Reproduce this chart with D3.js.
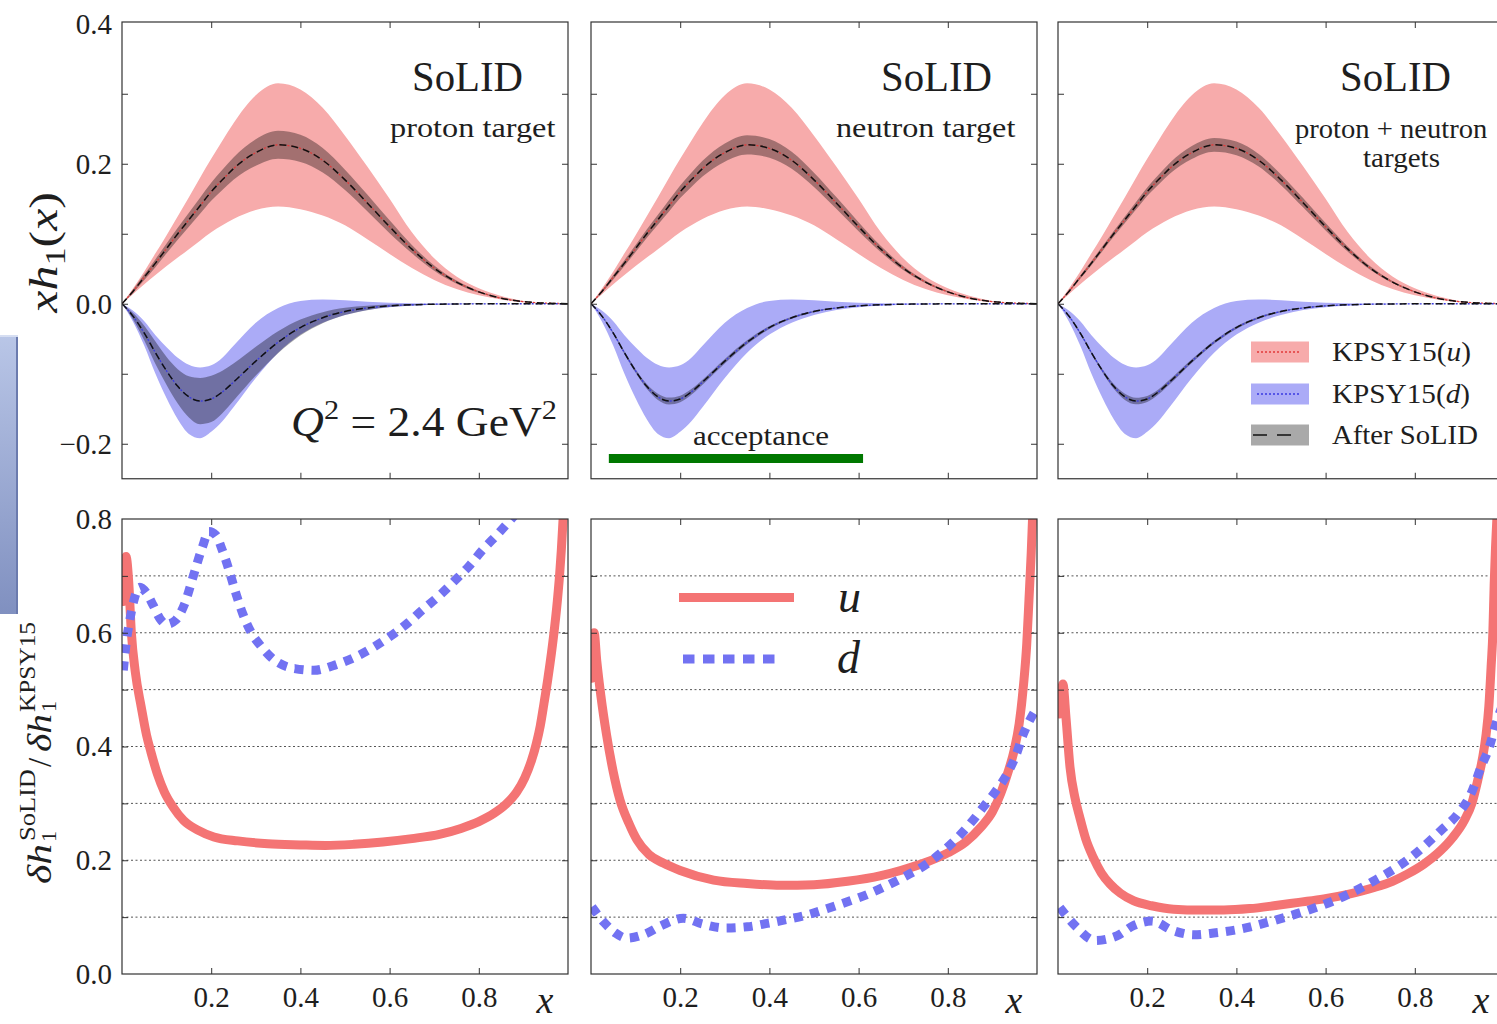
<!DOCTYPE html>
<html><head><meta charset="utf-8">
<script src="https://cdn.jsdelivr.net/npm/d3@7"></script>
<style>html,body{margin:0;padding:0;background:#fff;overflow:hidden}svg{display:block}</style>
</head><body>
<svg id="chart" width="1497" height="1024"></svg>
<script>
// ---------------- DATA ----------------
const xGrid = [0, 0.025, 0.05, 0.075, 0.1, 0.125, 0.15, 0.175, 0.2, 0.225, 0.25, 0.3, 0.35, 0.4, 0.45, 0.5, 0.55, 0.6, 0.65, 0.7, 0.75, 0.8, 0.85, 0.9, 0.95, 1.0];
// KPSY15 u band (x h1)
const uUpper   = [0, 0.022, 0.046, 0.072, 0.098, 0.125, 0.152, 0.180, 0.207, 0.233, 0.258, 0.298, 0.315, 0.306, 0.280, 0.240, 0.196, 0.150, 0.102, 0.065, 0.039, 0.022, 0.011, 0.004, 0.001, 0];
const uCentral = [0, 0.018, 0.038, 0.058, 0.079, 0.100, 0.120, 0.140, 0.160, 0.177, 0.193, 0.216, 0.227, 0.222, 0.205, 0.177, 0.144, 0.110, 0.078, 0.051, 0.031, 0.017, 0.008, 0.003, 0.001, 0];
const uLower   = [0, 0.014, 0.028, 0.041, 0.054, 0.066, 0.078, 0.090, 0.102, 0.112, 0.121, 0.134, 0.139, 0.135, 0.126, 0.112, 0.092, 0.071, 0.051, 0.034, 0.021, 0.012, 0.006, 0.002, 0.0005, 0];
// KPSY15 d band
const dUpper   = [0, -0.010, -0.025, -0.045, -0.062, -0.077, -0.087, -0.091, -0.088, -0.077, -0.060, -0.027, -0.006, 0.004, 0.006, 0.005, 0.003, 0.0015, 0.0007, 0.0003, 0.0001, 0, 0, 0, 0, 0];
const dCentral = [0, -0.018, -0.042, -0.070, -0.096, -0.118, -0.133, -0.139, -0.136, -0.126, -0.112, -0.082, -0.055, -0.034, -0.020, -0.011, -0.006, -0.003, -0.0015, -0.0007, -0.0003, -0.0001, 0, 0, 0, 0];
const dLower   = [0, -0.026, -0.060, -0.100, -0.135, -0.165, -0.186, -0.192, -0.183, -0.168, -0.148, -0.106, -0.070, -0.044, -0.027, -0.016, -0.009, -0.005, -0.003, -0.0015, -0.0007, -0.0003, -0.0001, 0, 0, 0];
// "After SoLID" half-widths of the reduced bands
const afterHalfUProton   = [0, 0.0025, 0.004, 0.0057, 0.007, 0.0086, 0.010, 0.0115, 0.0129, 0.0145, 0.016, 0.019, 0.020, 0.0194, 0.0175, 0.0146, 0.012, 0.0092, 0.006, 0.0038, 0.0023, 0.0013, 0.0007, 0.0003, 0.0001, 0];
const afterHalfDProton   = [0, 0.0048, 0.0106, 0.016, 0.020, 0.0246, 0.0294, 0.033, 0.033, 0.0303, 0.0265, 0.0206, 0.0157, 0.0115, 0.008, 0.0052, 0.0032, 0.0018, 0.0011, 0.0005, 0.0003, 0.0001, 0, 0, 0, 0];
const afterHalfUNeutron  = [0, 0.0018, 0.0032, 0.0042, 0.0051, 0.006, 0.007, 0.0081, 0.009, 0.0101, 0.0112, 0.013, 0.0138, 0.0133, 0.0121, 0.0102, 0.0084, 0.0066, 0.0045, 0.0029, 0.0018, 0.0011, 0.0006, 0.0003, 0.0001, 0];
const afterHalfDNeutron  = [0, 0.0009, 0.0015, 0.002, 0.0026, 0.0034, 0.0045, 0.0049, 0.0047, 0.0041, 0.0036, 0.0032, 0.0027, 0.0021, 0.0016, 0.0011, 0.0007, 0.0004, 0.0003, 0.0001, 0.0001, 0, 0, 0, 0, 0];
const afterHalfUCombined = [0, 0.0014, 0.0024, 0.0031, 0.0035, 0.0041, 0.0048, 0.0055, 0.0061, 0.007, 0.0078, 0.0093, 0.0099, 0.0097, 0.009, 0.0077, 0.0066, 0.0052, 0.0036, 0.0024, 0.0015, 0.0009, 0.0005, 0.0003, 0.0001, 0];
const afterHalfDCombined = [0, 0.0008, 0.0014, 0.0019, 0.0024, 0.0034, 0.0044, 0.0047, 0.0043, 0.0036, 0.0033, 0.0027, 0.0023, 0.0019, 0.0014, 0.001, 0.0006, 0.0004, 0.0003, 0.0001, 0.0001, 0, 0, 0, 0, 0];
// Error-reduction ratios (bottom row)
const ratioProtonUX = [0.003, 0.009, 0.015, 0.021, 0.03, 0.043, 0.055, 0.065, 0.08, 0.095, 0.115, 0.138, 0.17, 0.206, 0.26, 0.327, 0.4, 0.456, 0.52, 0.585, 0.65, 0.714, 0.76, 0.8, 0.835, 0.86, 0.885, 0.903, 0.918, 0.929, 0.938, 0.946, 0.955, 0.963, 0.97, 0.976, 0.981, 0.985, 0.989, 0.993];
const ratioProtonU  = [0.655, 0.734, 0.69, 0.6, 0.53, 0.47, 0.42, 0.39, 0.35, 0.32, 0.293, 0.27, 0.253, 0.241, 0.234, 0.229, 0.227, 0.226, 0.228, 0.232, 0.238, 0.246, 0.256, 0.268, 0.283, 0.298, 0.32, 0.345, 0.375, 0.405, 0.437, 0.475, 0.52, 0.565, 0.61, 0.655, 0.7, 0.745, 0.8, 0.86];
const ratioProtonDX = [0.003, 0.009, 0.017, 0.026, 0.04, 0.055, 0.07, 0.085, 0.1, 0.12, 0.14, 0.16, 0.18, 0.195, 0.21, 0.225, 0.24, 0.255, 0.27, 0.29, 0.31, 0.34, 0.387, 0.43, 0.473, 0.525, 0.567, 0.602, 0.636, 0.675, 0.714, 0.744, 0.778, 0.808, 0.843, 0.873, 0.9];
const ratioProtonD  = [0.534, 0.58, 0.62, 0.655, 0.68, 0.67, 0.648, 0.625, 0.615, 0.622, 0.65, 0.7, 0.75, 0.778, 0.772, 0.745, 0.71, 0.67, 0.635, 0.6, 0.578, 0.553, 0.537, 0.534, 0.542, 0.558, 0.576, 0.594, 0.614, 0.641, 0.667, 0.69, 0.717, 0.745, 0.774, 0.8, 0.824];
const ratioNeutronUX = [0.002, 0.007, 0.013, 0.022, 0.035, 0.05, 0.065, 0.085, 0.103, 0.13, 0.162, 0.2, 0.275, 0.35, 0.425, 0.5, 0.575, 0.65, 0.694, 0.75, 0.8, 0.84, 0.874, 0.9, 0.919, 0.935, 0.949, 0.96, 0.97, 0.977, 0.982, 0.987, 0.99, 0.994];
const ratioNeutronU  = [0.52, 0.6, 0.55, 0.49, 0.42, 0.355, 0.306, 0.265, 0.236, 0.21, 0.195, 0.182, 0.165, 0.159, 0.156, 0.157, 0.163, 0.173, 0.182, 0.196, 0.213, 0.232, 0.258, 0.285, 0.318, 0.355, 0.394, 0.44, 0.51, 0.58, 0.658, 0.74, 0.8, 0.88];
const ratioNeutronDX = [0.002, 0.03, 0.055, 0.08, 0.12, 0.16, 0.207, 0.25, 0.3, 0.35, 0.395, 0.44, 0.485, 0.53, 0.575, 0.62, 0.665, 0.705, 0.746, 0.785, 0.822, 0.852, 0.88, 0.908, 0.934, 0.953, 0.97, 0.985, 1.0];
const ratioNeutronD  = [0.118, 0.09, 0.072, 0.063, 0.07, 0.086, 0.098, 0.088, 0.081, 0.083, 0.089, 0.096, 0.104, 0.115, 0.127, 0.14, 0.156, 0.172, 0.19, 0.213, 0.24, 0.266, 0.294, 0.322, 0.353, 0.385, 0.423, 0.448, 0.468];
const ratioCombinedUX = [0.004, 0.011, 0.018, 0.027, 0.038, 0.049, 0.062, 0.079, 0.097, 0.117, 0.14, 0.169, 0.21, 0.259, 0.32, 0.372, 0.43, 0.484, 0.54, 0.596, 0.65, 0.709, 0.75, 0.784, 0.82, 0.858, 0.885, 0.911, 0.928, 0.941, 0.952, 0.96, 0.966, 0.971, 0.975, 0.978, 0.981, 0.984, 0.987];
const ratioCombinedU  = [0.457, 0.51, 0.45, 0.363, 0.31, 0.275, 0.238, 0.205, 0.178, 0.158, 0.142, 0.129, 0.12, 0.114, 0.1125, 0.1125, 0.115, 0.12, 0.126, 0.132, 0.14, 0.152, 0.163, 0.176, 0.193, 0.217, 0.24, 0.27, 0.3, 0.34, 0.38, 0.422, 0.47, 0.539, 0.6, 0.686, 0.75, 0.8, 0.86];
const ratioCombinedDX = [0.004, 0.042, 0.083, 0.132, 0.169, 0.21, 0.259, 0.304, 0.349, 0.409, 0.484, 0.544, 0.619, 0.709, 0.791, 0.858, 0.896, 0.926, 0.948, 0.967, 0.982, 1.0];
const ratioCombinedD  = [0.117, 0.082, 0.059, 0.067, 0.085, 0.093, 0.076, 0.069, 0.072, 0.079, 0.094, 0.108, 0.129, 0.164, 0.205, 0.252, 0.281, 0.317, 0.363, 0.399, 0.44, 0.48];
// ticks, labels, annotations
const xTicks = [0.2, 0.4, 0.6, 0.8];
const topYLabelTicks = [-0.2, 0.0, 0.2, 0.4];
const topYMinorTicks = [-0.2, -0.1, 0, 0.1, 0.2, 0.3];
const botYLabelTicks = [0.0, 0.2, 0.4, 0.6, 0.8];
const botYMinorTicks = [0.1, 0.2, 0.3, 0.4, 0.5, 0.6, 0.7];
const gridLevels = [0.1, 0.2, 0.3, 0.4, 0.5, 0.6, 0.7];
const acceptanceRange = [0.04, 0.61];
const acceptanceLevel = -0.221;
const panelSubtitles = [["proton target"], ["neutron target"], ["proton + neutron", "targets"]];
const legendLabels = ["KPSY15(u)", "KPSY15(d)", "After SoLID"];

// ---------------- LAYOUT ----------------
const svg = d3.select("#chart");
const SERIF = "'Liberation Serif','Times New Roman',serif";
const ink = "#1e1e1e";
const colBandU = "#f7abab", colBandD = "#ababf7", colAfter = "rgba(0,0,0,0.34)";
const colLineU = "#f47474", colLineD = "#7272f2";
const panelLeft = [122, 591, 1058];
const panelW = 446;
const yTop = d3.scaleLinear().domain([-0.25, 0.4025]).range([478.75, 22]);
const yBot = d3.scaleLinear().domain([0, 0.8]).range([974, 519]);
const fmt = d3.format(".1f");

function rich(parent, pieces, x, y, size, anchor) {
  const t = parent.append("text").attr("x", x).attr("y", y)
    .attr("font-family", SERIF).attr("font-size", size).attr("fill", ink)
    .attr("text-anchor", anchor || "start");
  let shift = 0;
  pieces.forEach(p => {
    const s = t.append("tspan").text(p.t);
    if (p.i) s.attr("font-style", "italic");
    const target = p.sup ? -p.sup : (p.sub ? p.sub : 0);
    if (target !== shift) { s.attr("dy", target - shift); shift = target; }
    if (p.fs) s.attr("font-size", p.fs);
    if (p.dx) s.attr("dx", p.dx);
  });
  return t;
}
function fit(t, x0, width) {
  const b = t.node().getBBox();
  const k = width / b.width;
  t.attr("transform", `translate(${x0},0) scale(${k},1) translate(${-b.x},0)`);
  return t;
}

// decoration at the left edge (slide element)
const defs = svg.append("defs");
const g1 = defs.append("linearGradient").attr("id", "deco").attr("x1", 0).attr("y1", 0).attr("x2", 0).attr("y2", 1);
g1.append("stop").attr("offset", "0%").attr("stop-color", "#b9c6e7");
g1.append("stop").attr("offset", "100%").attr("stop-color", "#8090c0");
svg.append("rect").attr("x", -4).attr("y", 335).attr("width", 22).attr("height", 279).attr("fill", "url(#deco)");
svg.append("rect").attr("x", 16).attr("y", 337).attr("width", 2).attr("height", 277).attr("fill", "#6b7bae");
svg.append("rect").attr("x", -4).attr("y", 335).attr("width", 22).attr("height", 2).attr("fill", "#d6def2");

const panels = [
  {halfU: afterHalfUProton, halfD: afterHalfDProton, rU: [ratioProtonUX, ratioProtonU], rD: [ratioProtonDX, ratioProtonD]},
  {halfU: afterHalfUNeutron, halfD: afterHalfDNeutron, rU: [ratioNeutronUX, ratioNeutronU], rD: [ratioNeutronDX, ratioNeutronD]},
  {halfU: afterHalfUCombined, halfD: afterHalfDCombined, rU: [ratioCombinedUX, ratioCombinedU], rD: [ratioCombinedDX, ratioCombinedD]}
];

panels.forEach((p, i) => {
  const L = panelLeft[i];
  const x = d3.scaleLinear().domain([0, 1]).range([L, L + panelW]);

  // ---------- TOP PANEL ----------
  const clipT = "clipT" + i;
  defs.append("clipPath").attr("id", clipT).append("rect")
    .attr("x", x(0)).attr("y", yTop(0.4025)).attr("width", x(1) - x(0)).attr("height", yTop(-0.25) - yTop(0.4025));
  const gT = svg.append("g").attr("clip-path", `url(#${clipT})`);
  const area = (lo, hi) => d3.area().curve(d3.curveMonotoneX)
    .x((d, k) => x(xGrid[k])).y0((d, k) => yTop(lo(k))).y1((d, k) => yTop(hi(k)))(xGrid);
  const line = (f) => d3.line().curve(d3.curveMonotoneX).x((d, k) => x(xGrid[k])).y((d, k) => yTop(f(k)))(xGrid);

  gT.append("path").attr("d", area(k => uLower[k], k => uUpper[k])).attr("fill", colBandU);
  gT.append("path").attr("d", area(k => dLower[k], k => dUpper[k])).attr("fill", colBandD);
  gT.append("path").attr("d", area(k => uCentral[k] - p.halfU[k], k => uCentral[k] + p.halfU[k])).attr("fill", colAfter);
  gT.append("path").attr("d", area(k => dCentral[k] - p.halfD[k], k => dCentral[k] + p.halfD[k])).attr("fill", colAfter);
  gT.append("path").attr("d", line(k => uCentral[k])).attr("fill", "none").attr("stroke", "#e23a3a").attr("stroke-width", 1.3).attr("stroke-dasharray", "2,2");
  gT.append("path").attr("d", line(k => dCentral[k])).attr("fill", "none").attr("stroke", "#3a3ae2").attr("stroke-width", 1.3).attr("stroke-dasharray", "2,2");
  gT.append("path").attr("d", line(k => uCentral[k])).attr("fill", "none").attr("stroke", "#111").attr("stroke-width", 1.5).attr("stroke-dasharray", "7,5");
  gT.append("path").attr("d", line(k => dCentral[k])).attr("fill", "none").attr("stroke", "#111").attr("stroke-width", 1.5).attr("stroke-dasharray", "7,5");

  // frame + ticks (top)
  const axT = svg.append("g").attr("font-family", SERIF);
  const addAxis = (g, ax, tx, ty) => {
    const s = g.append("g").attr("transform", `translate(${tx},${ty})`).call(ax);
    s.attr("font-family", SERIF).attr("font-size", 29);
    s.select(".domain").remove();
    s.selectAll(".tick line").attr("stroke", "#333").attr("stroke-width", 1);
    s.selectAll(".tick text").attr("fill", ink).attr("font-size", 29).attr("font-family", SERIF);
    return s;
  };
  addAxis(axT, d3.axisLeft(yTop).tickValues(topYMinorTicks).tickSize(-6).tickFormat(""), x(0), 0);
  addAxis(axT, d3.axisRight(yTop).tickValues(topYMinorTicks).tickSize(-6).tickFormat(""), x(1), 0);
  addAxis(axT, d3.axisTop(x).tickValues(xTicks).tickSize(-6).tickFormat(""), 0, yTop(0.4025));
  addAxis(axT, d3.axisBottom(x).tickValues(xTicks).tickSize(-6).tickFormat(""), 0, yTop(-0.25));
  axT.append("rect").attr("x", x(0)).attr("y", yTop(0.4025)).attr("width", x(1) - x(0)).attr("height", yTop(-0.25) - yTop(0.4025))
    .attr("fill", "none").attr("stroke", "#333").attr("stroke-width", 1.2);
  if (i === 0) addAxis(axT, d3.axisLeft(yTop).tickValues(topYLabelTicks).tickSize(0).tickPadding(10).tickFormat(fmt), x(0), 0);

  // ---------- BOTTOM PANEL ----------
  const clipB = "clipB" + i;
  defs.append("clipPath").attr("id", clipB).append("rect")
    .attr("x", x(0)).attr("y", yBot(0.8)).attr("width", x(1) - x(0)).attr("height", yBot(0) - yBot(0.8));
  const gB = svg.append("g").attr("clip-path", `url(#${clipB})`);
  gB.selectAll("line.grid").data(gridLevels).enter().append("line")
    .attr("x1", x(0)).attr("x2", x(1)).attr("y1", d => yBot(d)).attr("y2", d => yBot(d))
    .attr("stroke", "#555").attr("stroke-width", 1).attr("stroke-dasharray", "2,2.5");
  const rline = (xs, ys) => d3.line().curve(d3.curveMonotoneX).x((d, k) => x(xs[k])).y((d, k) => yBot(ys[k]))(xs);
  gB.append("path").attr("d", rline(p.rU[0], p.rU[1])).attr("fill", "none").attr("stroke", colLineU)
    .attr("stroke-width", 9).attr("stroke-linejoin", "round").attr("stroke-linecap", "round");
  gB.append("path").attr("d", rline(p.rD[0], p.rD[1])).attr("fill", "none").attr("stroke", colLineD)
    .attr("stroke-width", 9).attr("stroke-dasharray", "9,8");

  const axB = svg.append("g").attr("font-family", SERIF);
  addAxis(axB, d3.axisLeft(yBot).tickValues(botYMinorTicks).tickSize(-6).tickFormat(""), x(0), 0);
  addAxis(axB, d3.axisRight(yBot).tickValues(botYMinorTicks).tickSize(-6).tickFormat(""), x(1), 0);
  addAxis(axB, d3.axisTop(x).tickValues(xTicks).tickSize(-6).tickFormat(""), 0, yBot(0.8));
  addAxis(axB, d3.axisBottom(x).tickValues(xTicks).tickSize(-6).tickFormat(""), 0, yBot(0));
  axB.append("rect").attr("x", x(0)).attr("y", yBot(0.8)).attr("width", x(1) - x(0)).attr("height", yBot(0) - yBot(0.8))
    .attr("fill", "none").attr("stroke", "#333").attr("stroke-width", 1.2);
  addAxis(axB, d3.axisBottom(x).tickValues(xTicks).tickSize(0).tickPadding(12).tickFormat(fmt), 0, yBot(0));
  if (i === 0) addAxis(axB, d3.axisLeft(yBot).tickValues(botYLabelTicks).tickSize(0).tickPadding(10).tickFormat(fmt), x(0), 0);

  // x label
  rich(svg, [{t: "x", i: 1}], x(1) - 23, 1013, 38, "middle");

  // titles
  fit(rich(svg, [{t: "SoLID"}], 0, 91, 42), L + (i === 2 ? 282 : 290), 111);
});

// subtitles
fit(rich(svg, [{t: panelSubtitles[0][0]}], 0, 137, 27), 390, 166);
fit(rich(svg, [{t: panelSubtitles[1][0]}], 0, 137, 27), 836, 180);
fit(rich(svg, [{t: panelSubtitles[2][0]}], 0, 138, 27), 1295, 193);
fit(rich(svg, [{t: panelSubtitles[2][1]}], 0, 167, 27), 1363, 77);

// Q^2 annotation
fit(rich(svg, [{t: "Q", i: 1}, {t: "2", sup: 17, fs: 28}, {t: "\u00a0=\u00a02.4\u00a0GeV"}, {t: "2", sup: 17, fs: 28}], 0, 436, 42), 291, 266);

// acceptance bar
{
  const x2 = d3.scaleLinear().domain([0, 1]).range([panelLeft[1], panelLeft[1] + panelW]);
  svg.append("line").attr("x1", x2(acceptanceRange[0])).attr("x2", x2(acceptanceRange[1]))
    .attr("y1", yTop(acceptanceLevel)).attr("y2", yTop(acceptanceLevel))
    .attr("stroke", "#007800").attr("stroke-width", 9);
  fit(rich(svg, [{t: "acceptance"}], 0, 445, 27), 693, 136);
}

// legend (top right panel)
{
  const sw = [
    {fill: colBandU, stroke: "#e23a3a", dash: "2,2", w: 1.3},
    {fill: colBandD, stroke: "#3a3ae2", dash: "2,2", w: 1.3},
    {fill: "#a9a9a9", stroke: "#111", dash: "14,10", w: 1.6}
  ];
  const rows = [352, 394, 435];
  const labelPieces = [
    [{t: "KPSY15("}, {t: "u", i: 1}, {t: ")"}],
    [{t: "KPSY15("}, {t: "d", i: 1}, {t: ")"}],
    [{t: legendLabels[2]}]
  ];
  const widths = [139, 138, 146];
  rows.forEach((cy, r) => {
    svg.append("rect").attr("x", 1251).attr("y", cy - 10.5).attr("width", 58).attr("height", 21).attr("fill", sw[r].fill);
    svg.append("line").attr("x1", r === 2 ? 1253 : 1257).attr("x2", r === 2 ? 1297 : 1299).attr("y1", cy).attr("y2", cy)
      .attr("stroke", sw[r].stroke).attr("stroke-width", sw[r].w).attr("stroke-dasharray", sw[r].dash);
    fit(rich(svg, labelPieces[r], 0, cy + 9, 27), 1332, widths[r]);
  });
}

// legend (bottom middle panel)
svg.append("line").attr("x1", 679).attr("x2", 794).attr("y1", 597.5).attr("y2", 597.5).attr("stroke", colLineU).attr("stroke-width", 9);
svg.append("line").attr("x1", 683).attr("x2", 783).attr("y1", 659).attr("y2", 659).attr("stroke", colLineD).attr("stroke-width", 9).attr("stroke-dasharray", "11.5,8.5");
rich(svg, [{t: "u", i: 1}], 838, 612, 46);
rich(svg, [{t: "d", i: 1}], 837, 673, 46);

// y-axis labels
{
  const gy = svg.append("g").attr("transform", "translate(57,253) rotate(-90)");
  fit(rich(gy, [{t: "xh", i: 1}, {t: "1", sub: 8, fs: 29}, {t: "("}, {t: "x", i: 1}, {t: ")"}], 0, 0, 40), -61, 122);
}
{
  const gy = svg.append("g").attr("transform", "translate(51,753) rotate(-90)");
  fit(rich(gy, [{t: "δh", i: 1}], 0, 0, 33), -131, 40);
  rich(gy, [{t: "1"}], -89, 5, 22);
  fit(rich(gy, [{t: "SoLID"}], 0, -16, 23), -88, 72);
  rich(gy, [{t: "/"}], -14, 0, 33);
  fit(rich(gy, [{t: "δh", i: 1}], 0, 0, 33), 1, 38);
  rich(gy, [{t: "1"}], 41, 5, 22);
  fit(rich(gy, [{t: "KPSY15"}], 0, -16, 23), 41, 90);
}
</script>
</body></html>
